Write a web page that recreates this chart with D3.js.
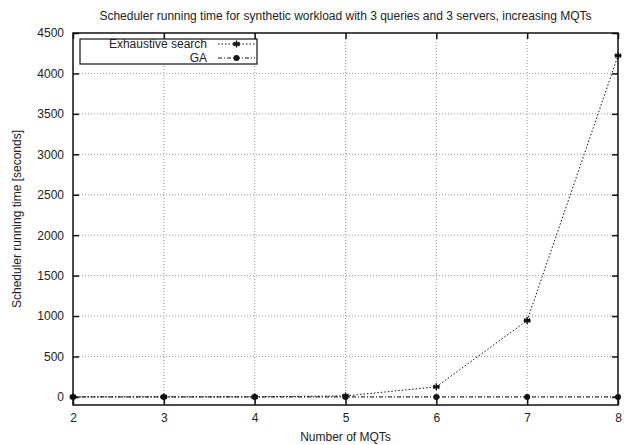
<!DOCTYPE html>
<html>
<head>
<meta charset="utf-8">
<script src="https://cdn.jsdelivr.net/npm/d3@7"></script>
<style>
  body { margin: 0; background: #fff; }
  svg text { font-family: "Liberation Sans", Arial, sans-serif; font-size: 12px; fill: #222; }
</style>
</head>
<body>
<svg id="chart" width="624" height="445"></svg>
<script>
var width = 624;
var height = 445;
var margin = {top: 33, right: 6, bottom: 40, left: 73};
var w = width - margin.left - margin.right;
var h = height - margin.top - margin.bottom;

// data
var mqts = [2, 3, 4, 5, 6, 7, 8];
var exhaustive = [0, 0, 1, 12, 125, 945, 4220];
var ga = [0, 0, 0, 0, 0, 0, 0];
var yTicks = [0, 500, 1000, 1500, 2000, 2500, 3000, 3500, 4000, 4500];
var seriesNames = ["Exhaustive search", "GA"];

var svg = d3.select("#chart");
var g = svg.append("g")
    .attr("transform", "translate(" + margin.left + "," + margin.top + ")");

var x = d3.scaleLinear().domain([2, 8]).range([0, w]);
var y = d3.scaleLinear().domain([-100, 4500]).range([h, 0]);

// grid lines (dotted gray)
g.selectAll(".vgrid").data(mqts.slice(1, -1))
  .enter().append("line")
    .attr("x1", d => x(d)).attr("x2", d => x(d))
    .attr("y1", 0).attr("y2", h)
    .style("stroke", "#999").style("stroke-width", 1).style("stroke-dasharray", "1,2");
g.selectAll(".hgrid").data(yTicks.slice(0, -1))
  .enter().append("line")
    .attr("x1", 0).attr("x2", w)
    .attr("y1", d => y(d)).attr("y2", d => y(d))
    .style("stroke", "#999").style("stroke-width", 1).style("stroke-dasharray", "1,2");

// axes, gnuplot style: ticks pointing inward and mirrored
var tickLen = 6;
g.append("g").attr("transform", "translate(0," + h + ")")
  .call(d3.axisBottom(x).tickValues(mqts).tickSize(-tickLen).tickPadding(8).tickFormat(d3.format("d")));
g.append("g")
  .call(d3.axisTop(x).tickValues(mqts).tickSize(-tickLen).tickFormat(""));
g.append("g")
  .call(d3.axisLeft(y).tickValues(yTicks).tickSize(-tickLen).tickPadding(9).tickFormat(d3.format("d")));
g.append("g").attr("transform", "translate(" + w + ",0)")
  .call(d3.axisRight(y).tickValues(yTicks).tickSize(-tickLen).tickFormat(""));
g.selectAll(".domain").remove();
g.selectAll(".tick line").style("stroke", "#111").style("stroke-width", 1.5);
g.selectAll(".tick text").style("font-size", "12px").style("fill", "#222");

g.append("rect")
    .attr("width", w).attr("height", h)
    .style("fill", "none").style("stroke", "#111").style("stroke-width", 1.5);

// lines
var line = d3.line().x(d => x(d[0])).y(d => y(d[1]));
var gaPts = mqts.map((m, i) => [m, ga[i]]);
var exPts = mqts.map((m, i) => [m, exhaustive[i]]);

g.append("path").datum(gaPts)
    .attr("d", line)
    .style("fill", "none").style("stroke", "#111").style("stroke-width", 1)
    .style("stroke-dasharray", "4,2,1,2");
g.append("path").datum(exPts)
    .attr("d", line)
    .style("fill", "none").style("stroke", "#111").style("stroke-width", 1)
    .style("stroke-dasharray", "1.5,2");

function star(sel, cx, cy) {
  var r = 3.5;
  var s = sel.append("g").attr("transform", "translate(" + cx + "," + cy + ")");
  [0, 60, 120].forEach(function(a) {
    s.append("line")
      .attr("x1", -r).attr("x2", r).attr("y1", 0).attr("y2", 0)
      .attr("transform", "rotate(" + (a + 90) + ")")
      .style("stroke", "#111").style("stroke-width", 1.5);
  });
  s.append("line").attr("x1", -r).attr("x2", r)
    .style("stroke", "#111").style("stroke-width", 1.5);
}

exPts.forEach(function(p) { star(g, x(p[0]), y(p[1])); });
g.selectAll(".gadot").data(gaPts)
  .enter().append("circle")
    .attr("cx", d => x(d[0])).attr("cy", d => y(d[1]))
    .attr("r", 3).style("fill", "#111");

// legend
var lg = svg.append("g");
lg.append("rect")
    .attr("x", 80).attr("y", 39).attr("width", 177).attr("height", 25)
    .style("fill", "#fff").style("stroke", "#111").style("stroke-width", 1.2);
var rows = [44, 58];
seriesNames.forEach(function(name, i) {
  lg.append("text")
    .attr("x", 207).attr("y", rows[i]).attr("dy", "0.35em")
    .style("text-anchor", "end").text(name);
  lg.append("line")
    .attr("x1", 218).attr("x2", 255).attr("y1", rows[i]).attr("y2", rows[i])
    .style("stroke", "#111").style("stroke-width", 1)
    .style("stroke-dasharray", i === 0 ? "1.5,2" : "4,2,1,2");
});
star(lg, 236.5, rows[0]);
lg.append("circle").attr("cx", 236.5).attr("cy", rows[1]).attr("r", 3).style("fill", "#111");

// titles
svg.append("text")
    .attr("x", margin.left + w / 2).attr("y", 19.5)
    .style("text-anchor", "middle")
    .text("Scheduler running time for synthetic workload with 3 queries and 3 servers, increasing MQTs");
svg.append("text")
    .attr("x", margin.left + w / 2).attr("y", 441)
    .style("text-anchor", "middle")
    .text("Number of MQTs");
svg.append("text")
    .attr("transform", "translate(21," + (margin.top + h / 2) + ") rotate(-90)")
    .style("text-anchor", "middle")
    .text("Scheduler running time [seconds]");
</script>
</body>
</html>
